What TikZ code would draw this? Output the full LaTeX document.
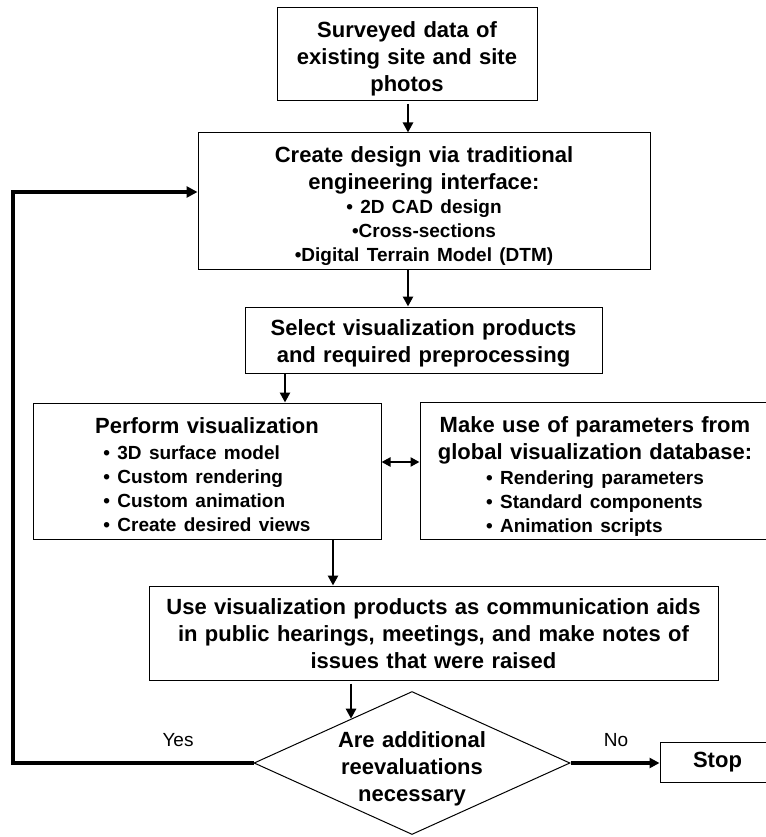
\documentclass[tikz,border=0pt]{standalone}
\usepackage{fontspec}
\setmainfont{Liberation Sans}
\usetikzlibrary{arrows.meta,shapes.geometric}
\newcommand{\headfont}{\fontsize{22}{27}\selectfont\bfseries}
\newcommand{\itemfont}{\fontsize{19}{24}\selectfont\bfseries}
% invisible strut that adds room above the first line of a box
\newcommand{\topstrut}[1]{\rule{0pt}{#1}}
\begin{document}
\begin{tikzpicture}[x=1pt,y=-1pt,
  box/.style={draw,line width=1pt,inner sep=0pt,align=center,font=\headfont},
  conn/.style={line width=2.6pt,-{Triangle[length=10pt,width=10pt]}},
  both/.style={line width=2.4pt,{Triangle[length=9pt,width=9pt]}-{Triangle[length=9pt,width=9pt]}},
  loopline/.style={line width=3.6pt,-{Triangle[length=11pt,width=11pt]}},
  answer/.style={font=\fontsize{19}{23}\selectfont}]
\useasboundingbox (0,0) rectangle (765,837);

% process steps
\node[box,minimum width=260pt,minimum height=93pt,text width=250pt] (s1) at (407,54)
  {\topstrut{26pt}Surveyed data of\par existing site and site\par photos};
\node[box,minimum width=452pt,minimum height=136pt,text width=440pt] (s2) at (424,201)
  {{\headfont\topstrut{26pt}Create design via traditional\par engineering interface:\par}
   {\itemfont \textbullet\ 2D CAD design\par \textbullet Cross-sections\par \textbullet Digital Terrain Model (DTM)\par}};
\node[box,minimum width=357pt,minimum height=66pt,text width=350pt] (s3) at (423.5,340)
  {\topstrut{23pt}Select visualization products\par and required preprocessing};
\node[box,minimum width=348pt,minimum height=136pt,text width=340pt] (s4) at (207,471)
  {{\headfont\topstrut{30pt}Perform visualization\par}\vspace{2pt}
   {\itemfont\begin{tabular}[t]{@{}l@{}}
     \textbullet\ 3D surface model\\
     \textbullet\ Custom rendering\\
     \textbullet\ Custom animation\\
     \textbullet\ Create desired views
   \end{tabular}\par}};
\node[box,minimum width=350pt,minimum height=136pt,text width=340pt] (s5) at (595,471)
  {{\headfont\topstrut{30pt}Make use of parameters from\par global visualization database:\par}\vspace{1pt}
   {\itemfont\begin{tabular}[t]{@{}l@{}}
     \textbullet\ Rendering parameters\\
     \textbullet\ Standard components\\
     \textbullet\ Animation scripts
   \end{tabular}\par}};
\node[box,minimum width=569pt,minimum height=94pt,text width=560pt] (s6) at (433.5,633)
  {\topstrut{18pt}Use visualization products as communication aids\par
   in public hearings, meetings, and make notes of\par
   issues that were raised};

% decision and end
\node[draw,diamond,line width=1pt,inner sep=0pt,minimum width=316pt,minimum height=143pt] (dec) at (412,763) {};
\node[font=\headfont,align=center,text width=200pt,inner sep=0pt] (dectxt) at (412,769)
  {Are additional\par reevaluations\par necessary};
\node[box,minimum width=115pt,minimum height=40pt] (stop) at (717.5,762) {Stop};
\node[answer] (yes) at (178,740) {Yes};
\node[answer] (no) at (616,740) {No};

% connector columns
\coordinate (colA) at (408,0);
\coordinate (colB) at (285,0);
\coordinate (colC) at (333,0);
\coordinate (rowD) at (0,462);
\coordinate (loopc) at (13,192);

\draw[conn,shorten <=3pt] (colA |- s1.south) -- (colA |- s2.north);
\draw[conn] (colA |- s2.south) -- (colA |- s3.north);
\draw[conn] (colB |- s3.south) -- (colB |- s4.north);
\draw[both] (s4.east |- rowD) -- (s5.west |- rowD);
\draw[conn] (colC |- s4.south) -- (colC |- s6.north);
\draw[conn,shorten <=3pt] (s6.south -| dec.144.3) -- (dec.144.3);
\draw[loopline] (dec.west) -| (loopc) -- (loopc -| s2.west);
\draw[conn,line width=3.2pt] (dec.east) -- (dec.east -| stop.west);
\end{tikzpicture}
\end{document}
